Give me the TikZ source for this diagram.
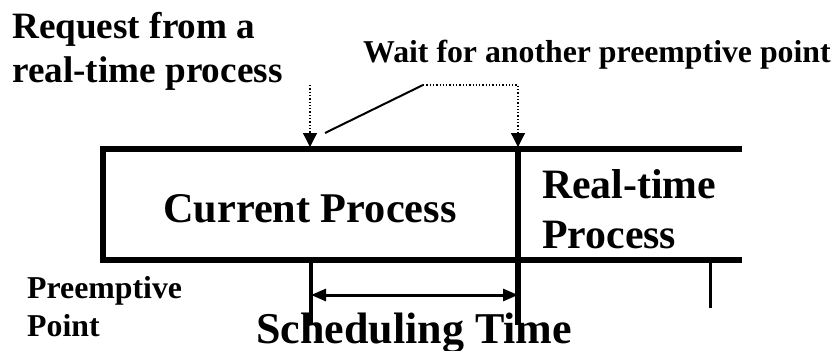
\documentclass[tikz,border=0pt]{standalone}
\usepackage{fontspec}
\setmainfont{Liberation Serif}
\usetikzlibrary{arrows.meta}
\newcommand\myfs[1]{\fontsize{#1}{#1}\selectfont\bfseries}
\begin{document}
\begin{tikzpicture}[x=1pt,y=-1pt,
  lbl/.style={inner sep=0pt, anchor=base west},
  boxline/.style={line width=5.5pt, line join=miter},
  tickline/.style={line width=4.5pt},
  thintick/.style={line width=3pt},
  spanarrow/.style={line width=3pt, {Triangle[length=15pt,width=12pt]}-{Triangle[length=15pt,width=12pt]}},
  callout/.style={line width=1.3pt, dotted, -{Triangle[length=14pt,width=14pt]}},
  leader/.style={line width=2pt}]
\useasboundingbox (0,0) rectangle (839,351);
% geometry
\coordinate (topR) at (742,149);
\coordinate (boxTL) at (103,149);
\coordinate (boxBL) at (103,260);
\coordinate (botR) at (742,260);
\coordinate (divT) at (518,149);
\coordinate (divB) at (518,325);
\coordinate (tickLa) at (311,260);
\coordinate (tickLb) at (311,325);
\coordinate (tickRa) at (710,260);
\coordinate (tickRb) at (710,308);
\coordinate (spanA) at (311,295);
\coordinate (spanB) at (518,295);
\coordinate (reqTop) at (310,85);
\coordinate (reqHit) at (310,147);
\coordinate (waitL) at (423,85);
\coordinate (waitHit) at (518,147);
\coordinate (leadEnd) at (325,133);
% box and ticks
\draw[boxline] (topR) -- (boxTL) -- (boxBL) -- (botR);
\draw[boxline] (divT) -- (divB);
\draw[tickline] (tickLa) -- (tickLb);
\draw[thintick] (tickRa) -- (tickRb);
\draw[spanarrow] (spanA) -- (spanB);
% callouts
\draw[callout] (reqTop) -- (reqHit);
\draw[callout] (waitL) -| (waitHit);
\draw[leader] (waitL) -- (leadEnd);
% labels
\node[lbl] (req1) at (12,38) {\myfs{37.2}Request from a};
\node[lbl] (req2) at (12,82) {\myfs{37.2}real-time process};
\node[lbl] (wait) at (363,62) {\myfs{31.8}Wait for another preemptive point};
\node[lbl] (cur) at (163,222) {\myfs{42.3}Current Process};
\node[lbl] (rt1) at (542,198) {\myfs{41.8}Real-time};
\node[lbl] (rt2) at (542,248) {\myfs{41.8}Process};
\node[lbl] (pp1) at (27,298) {\myfs{31.8}Preemptive};
\node[lbl] (pp2) at (27,336) {\myfs{31.8}Point};
\node[lbl] (sched) at (256,343) {\myfs{44}Scheduling Time};
\end{tikzpicture}
\end{document}
